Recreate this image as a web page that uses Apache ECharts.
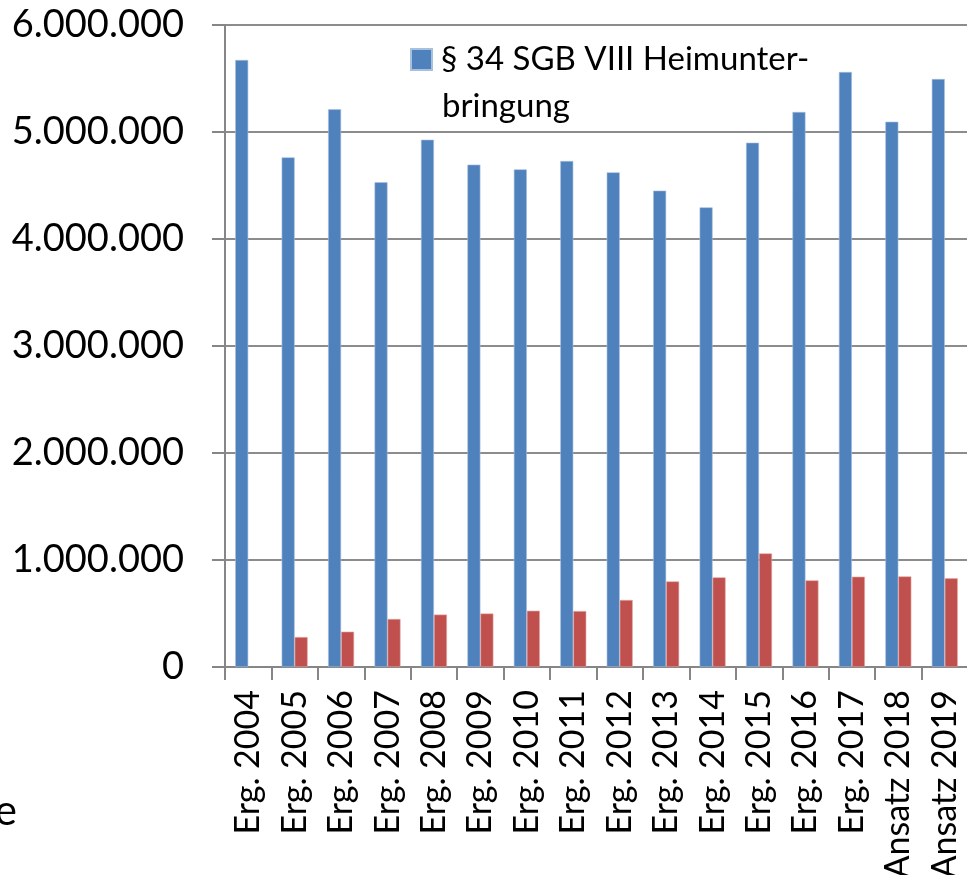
<!DOCTYPE html>
<html>
<head>
<meta charset="utf-8">
<script src="https://cdn.jsdelivr.net/npm/echarts@6/dist/echarts.min.js"></script>
<style>
  html, body { margin: 0; padding: 0; background: #fff; }
  #chart { width: 967px; height: 875px; }
</style>
</head>
<body>
<div id="chart"></div>
<script>
// Kategorien (Haushaltsjahre)
var categories = ['Erg. 2004', 'Erg. 2005', 'Erg. 2006', 'Erg. 2007', 'Erg. 2008', 'Erg. 2009',
  'Erg. 2010', 'Erg. 2011', 'Erg. 2012', 'Erg. 2013', 'Erg. 2014', 'Erg. 2015',
  'Erg. 2016', 'Erg. 2017', 'Ansatz 2018', 'Ansatz 2019'];

// § 34 SGB VIII Heimunterbringung (blau)
var heimValues = [5673000, 4763000, 5212000, 4530000, 4928000, 4695000, 4651000, 4729000,
  4623000, 4452000, 4296000, 4900000, 5187000, 5561000, 5096000, 5495000];

// zweite Reihe (rot), Legende abgeschnitten
var zweiteValues = [null, 280000, 330000, 449000, 490000, 500000, 526000, 523000,
  626000, 800000, 838000, 1062000, 810000, 844000, 847000, 829000];

var yTicks = [0, 1000000, 2000000, 3000000, 4000000, 5000000, 6000000];

var fontName = 'Lato, "Open Sans", sans-serif';

function fmtDe(v) {
  // Tausenderpunkte wie im Original
  return String(v).replace(/\B(?=(\d{3})+(?!\d))/g, '.');
}

var chart = echarts.init(document.getElementById('chart'));

chart.setOption({
  animation: false,
  textStyle: { fontFamily: fontName },
  grid: {
    left: 225,
    right: -1,
    top: 25,
    bottom: 208,
    containLabel: false,
    outerBoundsMode: 'none'
  },
  legend: {
    data: ['§ 34 SGB VIII Heimunterbringung'],
    left: 410,
    top: 43,
    padding: 0,
    itemWidth: 21,
    itemHeight: 21,
    itemGap: 0,
    icon: 'rect',
    formatter: function () { return '§ 34 SGB VIII Heimunter-'; },
    textStyle: { fontSize: 33, color: '#000', fontFamily: fontName, padding: [0, 0, 0, 4] }
  },
  xAxis: {
    type: 'category',
    data: categories,
    boundaryGap: true,
    axisLine: { lineStyle: { color: '#868686', width: 2 } },
    axisTick: { show: true, length: 13, interval: 0, lineStyle: { color: '#868686', width: 2 } },
    axisLabel: {
      interval: 0,
      rotate: 90,
      margin: 23,
      fontSize: 34,
      color: '#000',
      fontFamily: fontName
    }
  },
  yAxis: {
    type: 'value',
    min: yTicks[0],
    max: yTicks[yTicks.length - 1],
    interval: 1000000,
    axisLine: { show: true, lineStyle: { color: '#868686', width: 2 } },
    axisTick: { show: true, length: 13, lineStyle: { color: '#868686', width: 2 } },
    splitLine: { lineStyle: { color: '#8c8c8c', width: 2 } },
    axisLabel: {
      margin: 41,
      fontSize: 38,
      color: '#000',
      fontFamily: fontName,
      formatter: fmtDe
    }
  },
  series: [
    {
      name: '§ 34 SGB VIII Heimunterbringung',
      type: 'bar',
      data: heimValues,
      barWidth: 13,
      barGap: '0%',
      itemStyle: { color: '#4F81BD', borderColor: '#a7c0de', borderWidth: 0.6 }
    },
    {
      name: 'Reihe 2',
      type: 'bar',
      data: zweiteValues,
      barWidth: 13,
      barGap: '0%',
      itemStyle: { color: '#C0504D', borderColor: '#e3a7a5', borderWidth: 0.6 }
    }
  ],
  graphic: [
    {
      type: 'text',
      left: 442,
      top: 90,
      style: { text: 'bringung', fontSize: 33, fill: '#000', fontFamily: fontName }
    },
    {
      type: 'text',
      right: 950,
      top: 790,
      style: { text: 'e', fontSize: 42, fill: '#000', fontFamily: fontName }
    }
  ]
});
</script>
</body>
</html>
